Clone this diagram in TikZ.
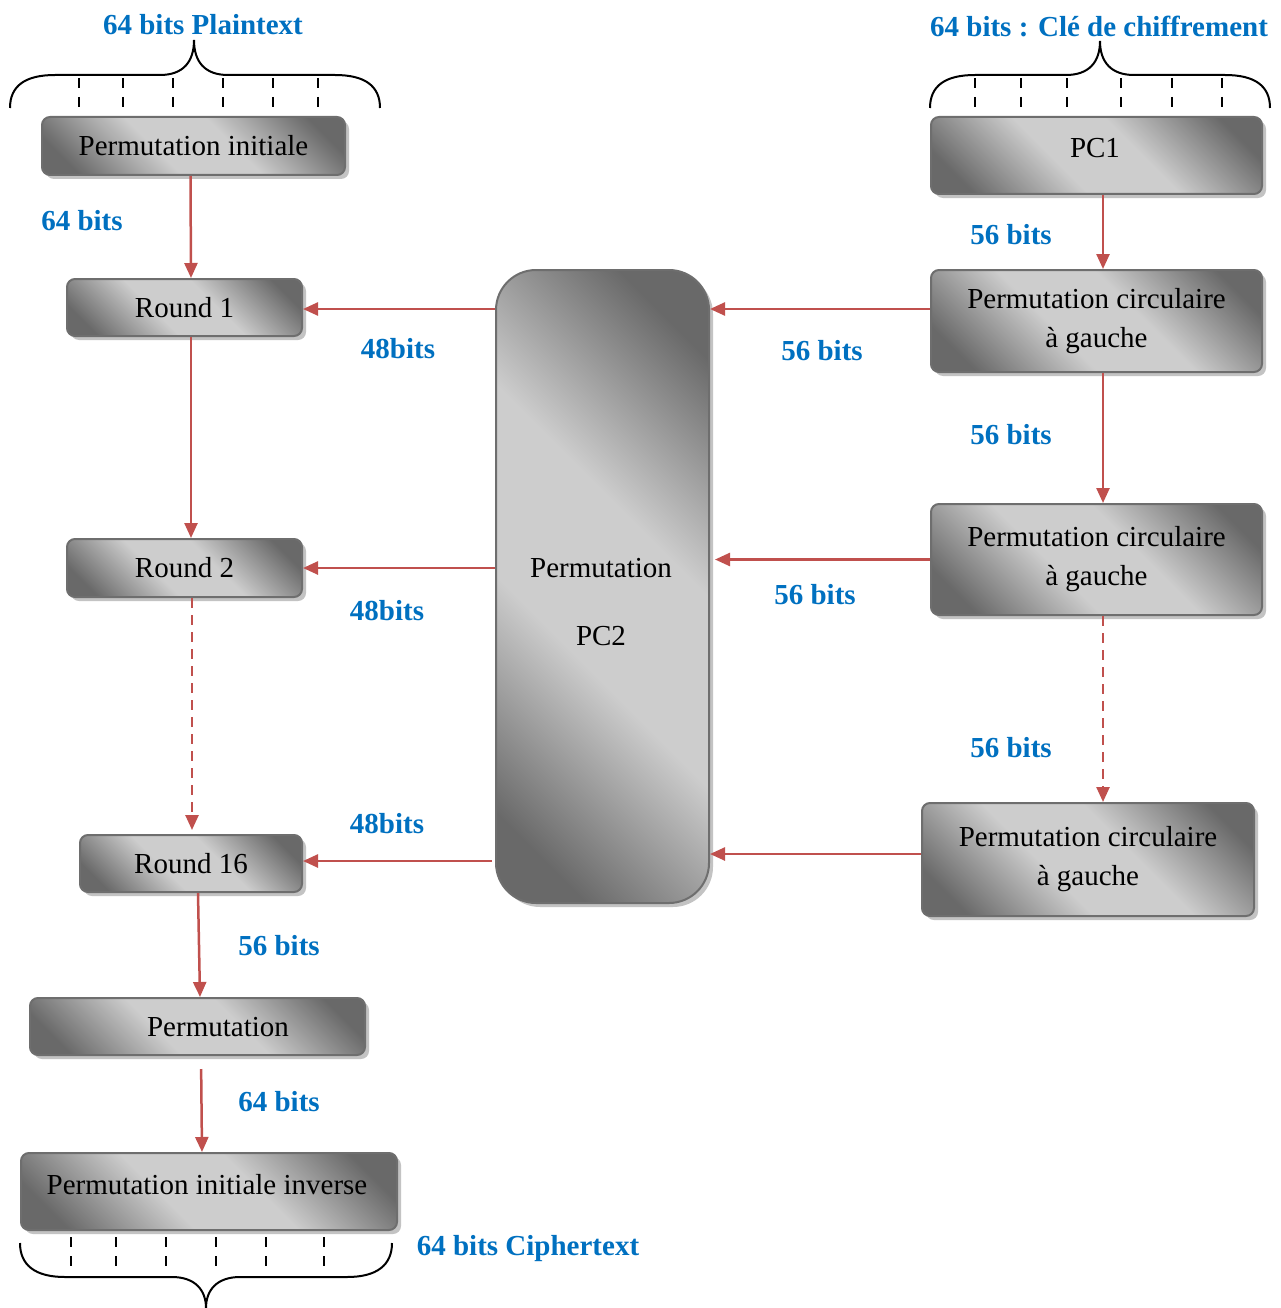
\documentclass[tikz,border=0pt]{standalone}
\usepackage{fontspec}
\setmainfont{Liberation Serif}
\usetikzlibrary{arrows.meta,shadows,calc}
\definecolor{darkg}{RGB}{105,105,105}
\definecolor{lightg}{RGB}{205,205,205}
\definecolor{bordg}{RGB}{110,110,110}
\definecolor{arrred}{RGB}{192,80,77}
\definecolor{lblblue}{RGB}{0,112,192}
\definecolor{shad}{RGB}{195,195,195}
\pgfdeclareverticalshading{boxshade}{100bp}{color(0bp)=(darkg); color(22bp)=(darkg); color(42bp)=(lightg); color(58bp)=(lightg); color(78bp)=(darkg); color(100bp)=(darkg)}
\begin{document}
\begin{tikzpicture}[x=1pt,y=-1pt,
  box/.style={draw=bordg, line width=2pt, rounded corners=8pt,
    shading=boxshade, shading angle=-45,
    general shadow={fill=shad, shadow xshift=4pt, shadow yshift=-4pt},
    font=\fontsize{29}{39}\selectfont, align=center, inner sep=0pt, anchor=north west},
  boxtxt/.style={font=\fontsize{29}{39}\selectfont, align=center, inner sep=0pt},
  arr/.style={draw=arrred, line width=2.5pt, -{Triangle[length=15pt,width=13pt]}},
  dasharr/.style={arr, dash pattern=on 10pt off 7pt},
  lbl/.style={text=lblblue, font=\fontsize{29}{34}\selectfont\bfseries, inner sep=0pt},
  bracestyle/.style={draw=black, line width=2pt},
  tickstyle/.style={draw=black, line width=2pt, dash pattern=on 10pt off 9pt}]
\useasboundingbox (0,0) rectangle (1281,1308);

% braces
\draw[bracestyle] (10,108) .. controls (10,86) and (25,75) .. (55,75) -- (160,75)
  .. controls (183,75) and (194,62) .. (194,40) .. controls (194,62) and (205,75) .. (228,75)
  -- (335,75) .. controls (365,75) and (380,86) .. (380,108);
\foreach \x in {79,123,173,223,273,318} \draw[tickstyle] (\x,78) -- (\x,108);

\draw[bracestyle] (930,108) .. controls (930,86) and (945,75) .. (975,75) -- (1066,75)
  .. controls (1089,75) and (1100,62) .. (1100,41) .. controls (1100,62) and (1111,75) .. (1134,75)
  -- (1225,75) .. controls (1255,75) and (1270,86) .. (1270,108);
\foreach \x in {975,1021,1067,1121,1172,1222} \draw[tickstyle] (\x,78) -- (\x,114);

\draw[bracestyle] (20,1243) .. controls (20,1265) and (35,1277) .. (65,1277) -- (172,1277)
  .. controls (195,1277) and (206,1290) .. (206,1308) .. controls (206,1290) and (217,1277) .. (240,1277)
  -- (347,1277) .. controls (377,1277) and (392,1265) .. (392,1243);
\foreach \x in {71,116,166,216,266,324} \draw[tickstyle] (\x,1237) -- (\x,1266);

% boxes
\node[box, minimum width=303pt, minimum height=58pt] (pinit) at (41,116) {Permutation initiale};
\node[box, minimum width=331pt, minimum height=77pt] (pc1) at (930,116) {};
\node[boxtxt] (pc1t) at (1095,148) {PC1};
\node[box, minimum width=235pt, minimum height=57pt] (r1) at (66,278) {Round 1};
\node[box, minimum width=235pt, minimum height=58pt] (r2) at (66,538) {Round 2};
\node[box, minimum width=222pt, minimum height=57pt] (r16) at (79,834) {Round 16};
\node[box, minimum width=335pt, minimum height=57pt] (perm) at (29,997) {};
\node[boxtxt] (permt) at (218,1027) {Permutation};
\node[box, minimum width=376pt, minimum height=77pt] (pinv) at (20,1152) {};
\node[boxtxt] (pinvt) at (207,1185) {Permutation initiale inverse};
\node[box, rounded corners=40pt, minimum width=213pt, minimum height=633pt] (pc2) at (495,269) {};
\node[font=\fontsize{29}{68}\selectfont, align=center, inner sep=0pt] (pc2t) at (601,602) {Permutation\\PC2};
\node[box, minimum width=331pt, minimum height=102pt] (c1) at (930,269) {Permutation circulaire\\à gauche};
\node[box, minimum width=331pt, minimum height=111pt] (c2) at (930,503) {Permutation circulaire\\à gauche};
\node[box, minimum width=332pt, minimum height=113pt] (c3) at (921,802) {Permutation circulaire\\à gauche};

% vertical arrows left
\draw[arr] ([xshift=-3pt]pinit.south) -- ([xshift=6.5pt]r1.north);
\draw[arr] ([xshift=6.5pt]r1.south) -- ([xshift=6.5pt]r2.north);
\draw[dasharr, shorten >=4pt] ([xshift=7.5pt]r2.south) -- ([xshift=1pt]r16.north);
\draw[arr] ([xshift=7pt]r16.south) -- ([xshift=2.5pt]perm.north);
\draw[arr, shorten <=13pt] ([xshift=3.5pt]perm.south) -- ([xshift=-7pt]pinv.north);

% vertical arrows right
\draw[arr] ([xshift=6.5pt]pc1.south) -- ([xshift=6.5pt]c1.north);
\draw[arr] ([xshift=6.5pt]c1.south) -- ([xshift=6.5pt]c2.north);
\draw[dasharr] ([xshift=6.5pt]c2.south) -- ([xshift=15pt]c3.north);

% horizontal arrows
\draw[arr] ([yshift=12pt]c1.west) coordinate (a1) -- (a1 -| pc2.east);
\draw[arr, shorten >=5pt] (c2.west) coordinate (a2) -- (a2 -| pc2.east);
\draw[arr] ([yshift=5.5pt]c3.west) coordinate (a3) -- (a3 -| pc2.east);
\draw[arr] ([yshift=-1.5pt]r1.east) coordinate (b1) (b1 -| pc2.west) -- (b1);
\draw[arr] (r2.east) coordinate (b2) (b2 -| pc2.west) -- (b2);
\draw[arr] ([yshift=2.5pt]r16.east) coordinate (b3) ([xshift=-3pt]b3 -| pc2.west) -- (b3);

% labels
\node[lbl] (l1) at (203,25) {64 bits Plaintext};
\node[lbl] (l2) at (1099,26) {64 bits : Clé de chiffrement};
\node[lbl] (l3) at (82,221) {64 bits};
\node[lbl] (l4) at (1011,235) {56 bits};
\node[lbl] (l5) at (398,349) {48bits};
\node[lbl] (l6) at (822,351) {56 bits};
\node[lbl] (l7) at (1011,435) {56 bits};
\node[lbl] (l8) at (387,611) {48bits};
\node[lbl] (l9) at (815,595) {56 bits};
\node[lbl] (l10) at (1011,748) {56 bits};
\node[lbl] (l11) at (387,824) {48bits};
\node[lbl] (l12) at (279,946) {56 bits};
\node[lbl] (l13) at (279,1102) {64 bits};
\node[lbl] (l14) at (528,1249) {64 bits Ciphertext};
\end{tikzpicture}
\end{document}
